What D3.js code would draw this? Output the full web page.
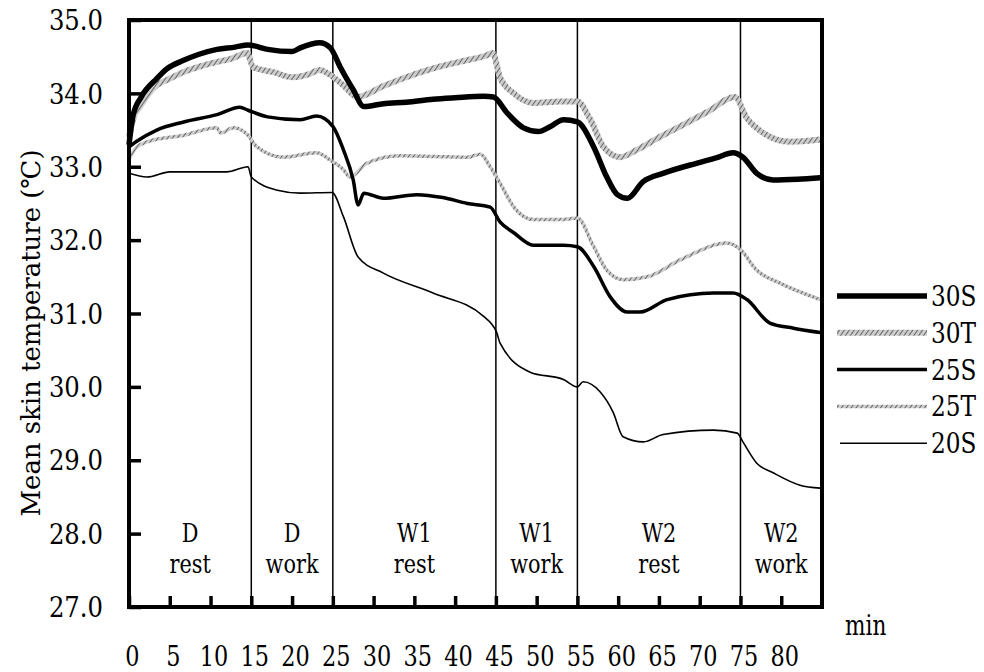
<!DOCTYPE html>
<html>
<head>
<meta charset="utf-8">
<script src="https://cdn.jsdelivr.net/npm/d3@7"></script>
<style>
  body { margin: 0; background: #fff; }
</style>
</head>
<body>
<div id="chart"></div>
<script>
// [minute, mean skin temperature]
var s30S = [[0,33.3],[0.5,33.7],[1.5,33.95],[3.4,34.2],[4.6,34.33],[6.7,34.45],[8.5,34.53],[10.8,34.6],[13,34.63],[14.6,34.66],
  [17,34.6],[20,34.57],[21,34.62],[23.4,34.69],[24.7,34.62],[25.9,34.36],[27.5,34.05],[28.8,33.82],[31.2,33.86],[34,33.88],[37.3,33.92],[40,33.94],[43.5,33.96],[44.7,33.95],
  [46.4,33.73],[48.4,33.53],[50.2,33.48],[51.7,33.55],[53.3,33.64],[55,33.61],[57,33.27],[58.6,32.86],[59.9,32.62],[61.1,32.57],[63.1,32.8],[65.5,32.91],[69.7,33.05],[72,33.12],[74.1,33.19],[75.3,33.13],
  [77,32.91],[79,32.82],[82,32.83],[84.8,32.85]];
var s30T = [[0,33.4],[0.5,33.65],[1.35,33.82],[3.4,34.11],[5,34.2],[6.7,34.29],[8.5,34.36],[10.8,34.43],[12.5,34.47],[14.5,34.55],
  [15.2,34.36],[17.7,34.29],[20.1,34.22],[22,34.26],[23.4,34.32],[24.7,34.25],[26.3,34.11],[28,33.95],[31.2,34.1],[34,34.22],[37.3,34.34],[40.5,34.43],[43.9,34.52],[44.6,34.55],
  [45.5,34.22],[47.2,34.0],[49.6,33.87],[52.9,33.89],[55,33.89],[56.6,33.64],[58.2,33.27],[60.2,33.13],[62.3,33.23],[65,33.4],[67.6,33.55],[71,33.75],[74.3,33.95],
  [75.8,33.66],[77.8,33.46],[81.1,33.34],[84.8,33.37]];
var s25S = [[0,33.27],[1,33.35],[3.4,33.5],[6.7,33.61],[10.8,33.71],[13.6,33.81],[14.6,33.77],
  [17,33.68],[21,33.64],[23,33.69],[25,33.55],[26.3,33.23],[27.5,32.82],[28.1,32.48],[28.8,32.64],[31.2,32.57],[35.3,32.62],[38.5,32.58],[41.5,32.5],[44.3,32.45],
  [45.5,32.25],[47.2,32.1],[49.6,31.93],[53.3,31.93],[55,31.91],[57,31.64],[59,31.23],[61.1,31.02],[62.7,31.02],[66,31.19],[71.7,31.28],[74.1,31.28],
  [75.8,31.19],[78.6,30.87],[81.5,30.8],[84.8,30.74]];
var s25T = [[0,33.1],[0.8,33.25],[2.2,33.34],[6.7,33.43],[10.8,33.53],[11.2,33.46],[12.8,33.53],[14.6,33.43],
  [15.7,33.27],[18.9,33.13],[23,33.19],[24.7,33.09],[26.3,32.96],[27.1,32.86],[29.2,33.05],[33.3,33.15],[37.5,33.14],[41.5,33.13],[43.1,33.17],[44.3,33.0],
  [45.5,32.78],[47.2,32.45],[49.6,32.28],[53.3,32.28],[55,32.3],[57,31.91],[58.6,31.59],[60.6,31.46],[63.6,31.5],[67.6,31.73],[73.4,31.96],[75,31.87],
  [77,31.59],[79.9,31.41],[84.8,31.19]];
var s20S = [[0,32.91],[2.2,32.86],[5,32.93],[12,32.93],[14.6,33.0],
  [15,32.86],[18.2,32.68],[21,32.64],[24.9,32.65],[26.3,32.32],[28.1,31.77],[31.2,31.55],[37.3,31.28],[43.5,30.96],[45.1,30.74],
  [45.5,30.6],[49.2,30.2],[53.3,30.1],[55,30.0],[55.7,30.07],[57.8,29.93],[59.4,29.65],[60.6,29.32],[63.1,29.25],[65.5,29.35],[71.7,29.41],[74.6,29.37],
  [75.3,29.25],[77,28.96],[79,28.83],[82.3,28.66],[84.8,28.62]];

var seriesNames = ["30S", "30T", "25S", "25T", "20S"];
var seriesData = [s30S, s30T, s25S, s25T, s20S];

var yTicks = [27, 28, 29, 30, 31, 32, 33, 34, 35];
var xTicks = [0, 5, 10, 15, 20, 25, 30, 35, 40, 45, 50, 55, 60, 65, 70, 75, 80];
var phaseBounds = [15, 25, 45, 55, 75];
var phaseLabels = [["D", "rest", 7.5], ["D", "work", 20], ["W1", "rest", 35], ["W1", "work", 50], ["W2", "rest", 65], ["W2", "work", 80]];

var width = 984, height = 672;
var margin = {top: 20, right: 162, bottom: 65, left: 129};
var serif = 'DejaVu Serif';

var x = d3.scaleLinear().domain([0, 85]).range([margin.left, width - margin.right]);
var y = d3.scaleLinear().domain([27, 35]).range([height - margin.bottom, margin.top]);

var svg = d3.select('#chart').append('svg')
  .attr('width', width).attr('height', height);

// serif text, squeezed sideways to look like the narrow Times of the original
var setFont = function(sel, size, k) {
  sel.style('font-family', serif).style('font-size', size + 'px').attr('fill', '#000');
  sel.each(function() {
    var len = this.getComputedTextLength();
    this.setAttribute('textLength', len * k);
    this.setAttribute('lengthAdjust', 'spacingAndGlyphs');
  });
};

// hatch pattern for the T series
var defs = svg.append('defs');
var hatch = defs.append('pattern')
  .attr('id', 'hatch').attr('patternUnits', 'userSpaceOnUse')
  .attr('width', 4).attr('height', 4)
  .attr('patternTransform', 'rotate(35)');
hatch.append('rect').attr('width', 4).attr('height', 4).attr('fill', '#cdcdcd');
hatch.append('line').attr('x1', 0).attr('y1', 0).attr('x2', 0).attr('y2', 4)
  .attr('stroke', '#3a3a3a').attr('stroke-width', 1.4);

var styles = {
  '30S': {stroke: '#000', width: 5.5},
  '30T': {stroke: 'url(#hatch)', width: 6},
  '25S': {stroke: '#000', width: 3.5},
  '25T': {stroke: 'url(#hatch)', width: 3.5},
  '20S': {stroke: '#000', width: 1.6}
};

// phase separators
svg.append('g').selectAll('line').data(phaseBounds).enter()
  .append('line')
  .attr('x1', function(d) { return x(d); }).attr('x2', function(d) { return x(d); })
  .attr('y1', y(35)).attr('y2', y(27))
  .attr('stroke', '#000').attr('stroke-width', 1.5);

// phase labels
var pl = svg.append('g').selectAll('g').data(phaseLabels).enter().append('g');
pl.append('text').attr('class', 'phase').attr('x', function(d) { return x(d[2]); }).attr('y', 542)
  .attr('text-anchor', 'middle').text(function(d) { return d[0]; });
pl.append('text').attr('class', 'phase').attr('x', function(d) { return x(d[2]); }).attr('y', 573)
  .attr('text-anchor', 'middle').text(function(d) { return d[1]; });
setFont(svg.selectAll('text.phase'), 26, 0.8);

// series, drawn from the bottom up
var line = d3.line()
  .x(function(d) { return x(d[0]); })
  .y(function(d) { return y(d[1]); })
  .curve(d3.curveMonotoneX);

var order = [4, 3, 2, 1, 0];
order.forEach(function(i) {
  var st = styles[seriesNames[i]];
  svg.append('path')
    .datum(seriesData[i])
    .attr('d', line)
    .attr('fill', 'none')
    .attr('stroke', st.stroke)
    .attr('stroke-width', st.width)
    .attr('stroke-linejoin', 'round');
});

// axes
var yAxis = svg.append('g')
  .attr('transform', 'translate(' + margin.left + ',0)')
  .call(d3.axisLeft(y).tickValues(yTicks).tickSizeInner(-12).tickSizeOuter(0).tickPadding(26)
    .tickFormat(d3.format('.1f')));
yAxis.select('.domain').remove();
yAxis.selectAll('.tick line').attr('stroke', '#000').attr('stroke-width', 3.5);
yAxis.selectAll('.tick text').attr('dy', '0.36em');
setFont(yAxis.selectAll('.tick text'), 27, 0.9);

var xAxis = svg.append('g')
  .attr('transform', 'translate(0,' + y(27) + ')')
  .call(d3.axisBottom(x).tickValues(xTicks).tickSizeInner(-11).tickSizeOuter(0).tickPadding(0));
xAxis.select('.domain').remove();
xAxis.selectAll('.tick line').attr('stroke', '#000').attr('stroke-width', 3.5);
xAxis.selectAll('.tick text').attr('y', 59).attr('dy', 0).attr('dx', 3);
setFont(xAxis.selectAll('.tick text'), 28, 0.8);

// frame
svg.append('rect')
  .attr('x', x(0)).attr('y', y(35))
  .attr('width', x(85) - x(0)).attr('height', y(27) - y(35))
  .attr('fill', 'none').attr('stroke', '#000').attr('stroke-width', 4);

// axis titles
var title = svg.append('text')
  .attr('transform', 'translate(40,333) rotate(-90)')
  .attr('text-anchor', 'middle')
  .text('Mean skin temperature (\u2103)');
title.style('font-family', serif).style('font-size', '26px')
  .attr('textLength', 367).attr('lengthAdjust', 'spacingAndGlyphs');
var minLabel = svg.append('text').attr('x', 845).attr('y', 635).text('min');
setFont(minLabel, 27, 0.8);

// legend
var legend = svg.append('g').selectAll('g').data(seriesNames).enter().append('g')
  .attr('transform', function(d, i) { return 'translate(837,' + (296 + i * 36.8) + ')'; });
legend.append('line')
  .attr('x1', function(d) { return d === '20S' ? 3 : 0; }).attr('x2', 90).attr('y1', 0).attr('y2', 0)
  .attr('stroke', function(d) { return styles[d].stroke; })
  .attr('stroke-width', function(d) { return styles[d].width; });
var legendText = legend.append('text').attr('x', 94).attr('y', 10)
  .text(function(d) { return d; });
setFont(legendText, 27, 0.86);
</script>
</body>
</html>
